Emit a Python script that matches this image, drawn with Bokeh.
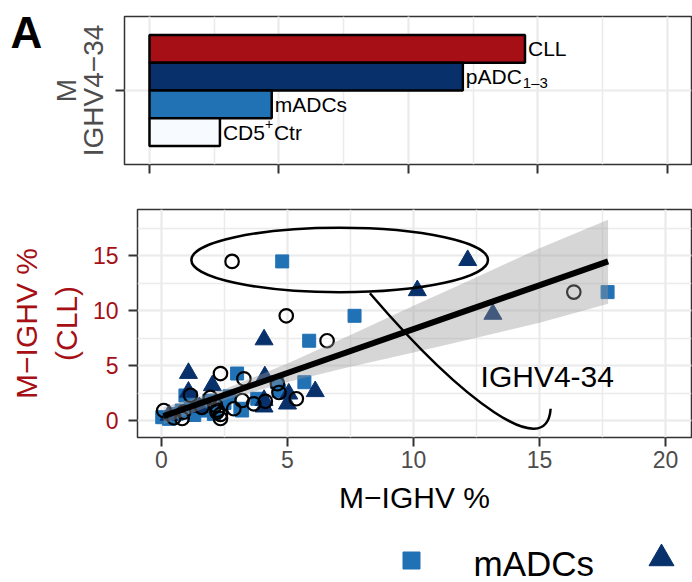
from bokeh.plotting import figure
from bokeh.layouts import column, row
from bokeh.models import Range1d, SingleIntervalTicker, FixedTicker
from bokeh.core.properties import value
from bokeh.embed import file_html
from bokeh.resources import INLINE

FONT = "Liberation Sans"

# ---------------- data: top bar panel (IGHV4-34 M-IGHV %) ----------------
bar_groups = ["CLL", "pADC", "mADCs", "CD5"]
bar_values = [14.5, 12.1, 4.72, 2.72]
bar_colors = ["#A50F15", "#08306B", "#2171B5", "#F7FBFF"]
category_label = "M\nIGHV4\u221234"
sub_label = "1\u20133"     # subscript of pADC
sup_label = "+"            # superscript of CD5
ctr_suffix = "Ctr"
panel_tag = ["A"]

# ---------------- data: scatter panel ----------------
ctr_x = [2.8, 4.95, 6.57, 16.36, 2.34, 3.27, 4.6, 4.66, 5.35, 4.12, 3.66, 3.2, 2.87,
         2.34, 2.21, 1.94, 2.14, 1.15, 0.09, 0.49, 0.82, 0.88, 2.2, 2.34, 1.6]
ctr_y = [14.5, 9.54, 7.27, 11.7, 4.28, 3.8, 3.35, 2.55, 1.98, 1.75, 1.52, 1.82, 1.07,
         0.55, 0.95, 2.1, 1.4, 2.3, 0.91, 0.25, 0.18, 0.76, 0.76, 0.18, 1.2]
madc_x = [4.79, 7.66, 5.86, 17.7, 3.0, 4.59, 5.67, 4.66, 3.13, 3.2, 2.08, 1.9, 1.16,
          0.95, 0.03, 0.3, 0.6, 0.8, 1.3, 1.6, 1.8, 2.5, 3.8, 2.7]
madc_y = [14.5, 9.54, 7.27, 11.7, 4.28, 3.49, 3.49, 2.7, 1.07, 0.91, 0.6, 1.8, 2.1,
          2.28, 0.3, 0.15, 0.6, 0.9, 0.5, 0.9, 1.4, 1.6, 1.98, 2.2]
padc_x = [12.15, 10.15, 13.15, 4.07, 1.07, 4.1, 2.02, 6.1, 5.05, 5.0, 4.07, 4.07,
          1.07, 1.5, 0.3]
padc_y = [14.6, 11.85, 9.7, 7.37, 4.31, 4.0, 3.19, 2.65, 2.43, 1.52, 1.85, 1.25,
          2.6, 1.2, 0.5]

fit_x = [0.08, 17.72]
fit_y = [0.4, 14.5]
band_x = [0.08, 2.5, 5.0, 7.5, 10.0, 12.5, 15.0, 17.72]
band_lo = [-0.35, 1.85, 3.5, 4.9, 6.2, 7.55, 8.9, 10.65]
band_hi = [1.2, 2.85, 5.2, 7.8, 10.45, 13.05, 15.7, 18.3]

ellipse_x, ellipse_y, ellipse_w, ellipse_h = [7.07], [14.63], [11.77], [5.87]
curve = dict(x0=[8.27], y0=[11.6], cx0=[12.0], cy0=[1.6], cx1=[15.3], cy1=[-3.8],
             x1=[15.44], y1=[1.07])
note_text = ["IGHV4-34"]
note_x, note_y = [12.66], [4.0]

legend_labels = ["mADCs"]

GRID = "#EBEBEB"
TICK = "#333333"


def strip(width, height, xr, yr, **kw):
    f = figure(width=width, height=height, x_range=xr, y_range=yr, title=None,
               output_backend="svg", toolbar_location=None,
               x_axis_location=None, y_axis_location=None, outline_line_color=None,
               **kw)
    f.grid.visible = False
    return f


# ---------------- panel tag strip (frame aligned with the top panel frame) -------
tag = strip(46, 190, Range1d(0, 46), Range1d(26, 174), min_border_left=0,
            min_border_right=0, min_border_top=16, min_border_bottom=26)
tag.text(x=[10], y=[158], text=panel_tag, text_baseline="middle",
         text_font=value(FONT), text_font_size="44px", text_font_style="bold",
         text_color="black")

# ---------------- top panel ----------------
top = figure(width=646, height=190, x_range=Range1d(-0.965, 20.93),
             y_range=Range1d(0.4, 1.6), title=None, output_backend="svg",
             toolbar_location=None, min_border_left=78, min_border_right=1,
             min_border_top=16, min_border_bottom=26)
n = len(bar_values)
bw = 0.9 / n
bar_y = [1 + ((n - 1) / 2 - i) * bw for i in range(n)]
top.hbar(y=bar_y, left=0, right=bar_values, height=bw, fill_color=bar_colors,
         line_color="black", line_width=2.5)
top.text(x=bar_values, y=bar_y, text=bar_groups, x_offset=3, text_baseline="middle",
         text_font=value(FONT), text_font_size="21px", text_color="black")
top.text(x=[bar_values[1]], y=[bar_y[1]], text=[sub_label], x_offset=60, y_offset=6,
         text_baseline="middle", text_font=value(FONT), text_font_size="15px",
         text_color="black")
top.text(x=[bar_values[3]], y=[bar_y[3]], text=[sup_label], x_offset=45, y_offset=-8,
         text_baseline="middle", text_font=value(FONT), text_font_size="14px",
         text_color="black")
top.text(x=[bar_values[3]], y=[bar_y[3]], text=[ctr_suffix], x_offset=54,
         text_baseline="middle", text_font=value(FONT), text_font_size="21px",
         text_color="black")

top.xaxis.ticker = SingleIntervalTicker(interval=5, num_minor_ticks=2)
top.xaxis.major_label_overrides = {0: "", 5: "", 10: "", 15: "", 20: ""}
top.yaxis.ticker = FixedTicker(ticks=[1])
top.yaxis.major_label_overrides = {1: ""}
top.yaxis.major_label_standoff = 0
top.yaxis.axis_label = category_label
top.yaxis.axis_label_text_font = FONT
top.yaxis.axis_label_text_font_size = "28px"
top.yaxis.axis_label_text_font_style = "normal"
top.yaxis.axis_label_text_color = "#4D4D4D"
top.yaxis.axis_label_text_line_height = 0.85
top.yaxis.axis_label_standoff = 7
for ax in (top.xaxis, top.yaxis):
    ax.axis_line_color = None
    ax.major_tick_out = 9
    ax.major_tick_in = 0
    ax.major_tick_line_width = 2
    ax.major_tick_line_color = TICK
    ax.minor_tick_line_color = None
top.xgrid.grid_line_color = GRID
top.xgrid.grid_line_width = 2
top.xgrid.minor_grid_line_color = GRID
top.xgrid.minor_grid_line_width = 1.5
top.ygrid.grid_line_color = GRID
top.ygrid.grid_line_width = 2
top.outline_line_color = "#333333"
top.outline_line_width = 1.5

# ---------------- scatter panel ----------------
bot = figure(width=692, height=340, x_range=Range1d(-0.952, 21.03),
             y_range=Range1d(-1.55, 19.23), title=None, output_backend="svg",
             toolbar_location=None, min_border_left=137, min_border_right=1,
             min_border_top=19, min_border_bottom=93)
bot.scatter(madc_x, madc_y, marker="square", size=13, fill_color="#2171B5",
            line_color="#2171B5")
bot.scatter(padc_x, padc_y, marker="triangle", size=18, fill_color="#08306B",
            line_color="#08306B")
bot.scatter(ctr_x, ctr_y, marker="circle", size=13.5, fill_color=None,
            line_color="black", line_width=2.2)
bot.varea(x=band_x, y1=band_lo, y2=band_hi, fill_color="#999999", fill_alpha=0.4)
bot.line(fit_x, fit_y, line_color="black", line_width=6)
bot.ellipse(x=ellipse_x, y=ellipse_y, width=ellipse_w, height=ellipse_h,
            fill_color=None, line_color="black", line_width=2.5)
bot.bezier(line_color="black", line_width=2.5, **curve)
bot.text(x=note_x, y=note_y, text=note_text, text_baseline="middle",
         text_font=value(FONT), text_font_size="30px", text_color="black")

bot.xaxis.ticker = SingleIntervalTicker(interval=5, num_minor_ticks=2)
bot.yaxis.ticker = SingleIntervalTicker(interval=5, num_minor_ticks=2)
bot.xaxis.axis_label = "M\u2212IGHV %"
bot.yaxis.axis_label = "M\u2212IGHV %\n(CLL)"
for ax in (bot.xaxis, bot.yaxis):
    ax.axis_line_color = None
    ax.major_tick_out = 9
    ax.major_tick_in = 0
    ax.major_tick_line_width = 2
    ax.major_tick_line_color = TICK
    ax.minor_tick_line_color = None
    ax.major_label_text_font = FONT
    ax.major_label_text_font_size = "23px"
    ax.axis_label_text_font = FONT
    ax.axis_label_text_font_size = "30px"
    ax.axis_label_text_font_style = "normal"
bot.xaxis.major_label_text_color = "#4D4D4D"
bot.xaxis.major_label_standoff = 4
bot.xaxis.axis_label_text_color = "black"
bot.xaxis.axis_label_standoff = 10
bot.yaxis.major_label_text_color = "#A50F15"
bot.yaxis.major_label_standoff = 10
bot.yaxis.axis_label_text_color = "#A50F15"
bot.yaxis.axis_label_standoff = 7
for g in (bot.xgrid, bot.ygrid):
    g.grid_line_color = GRID
    g.grid_line_width = 2
    g.minor_grid_line_color = GRID
    g.minor_grid_line_width = 1.5
bot.outline_line_color = "#333333"
bot.outline_line_width = 1.5

# ---------------- legend strip (cropped like the reference) ----------------
leg = strip(692, 52, Range1d(137, 691), Range1d(0, 52), min_border_left=137,
            min_border_right=1, min_border_top=0, min_border_bottom=0)
leg.scatter(x=[411], y=[22], marker="square", size=17, fill_color="#2171B5",
            line_color="#2171B5")
leg.text(x=[473], y=[19], text=legend_labels, text_baseline="middle",
         text_font=value(FONT), text_font_size="35px", text_color="black")
leg.scatter(x=[661], y=[24], marker="triangle", size=25, fill_color="#08306B",
            line_color="#08306B")

page = column(row(tag, top, spacing=0), bot, leg, spacing=0)
open("out.html", "w").write(file_html(page, INLINE))
